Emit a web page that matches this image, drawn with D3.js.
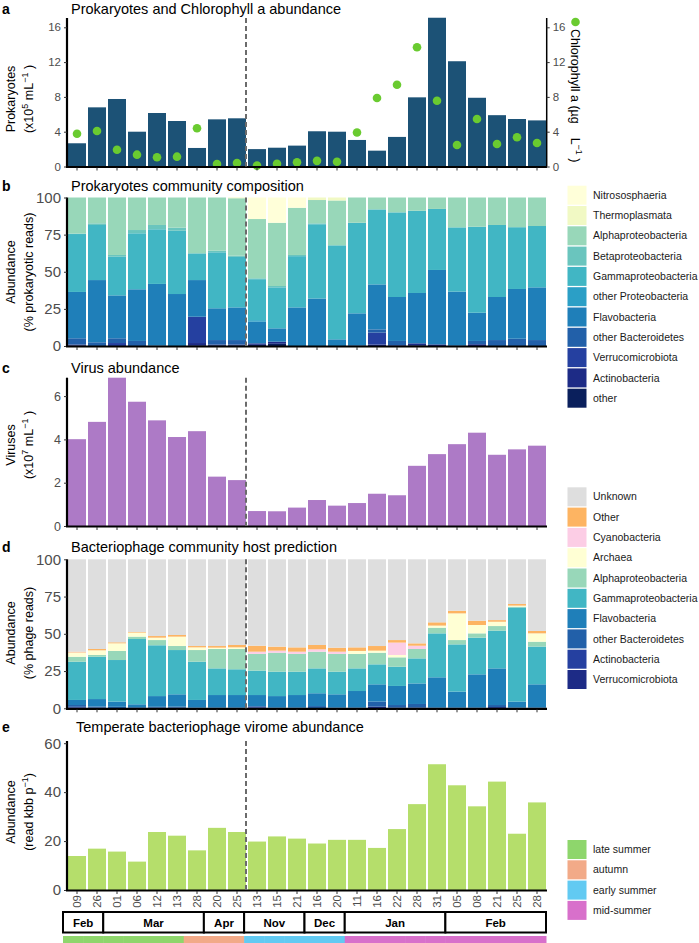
<!DOCTYPE html>
<html><head><meta charset="utf-8">
<script src="https://cdn.jsdelivr.net/npm/d3@7"></script>
<style>
body{margin:0;background:#fff;}
svg{display:block;font-family:"Liberation Sans",Arial,Helvetica,sans-serif;}
</style>
</head><body>
<svg id="chart" width="699" height="943"></svg>
<script>
// ---------------- DATA ----------------
const sampleIds = ["Feb-09","Feb-26","Mar-01","Mar-06","Mar-12","Mar-13","Mar-28","Apr-20","Apr-25",
  "Nov-13","Nov-15","Nov-21","Dec-16","Dec-20","Jan-11","Jan-16","Jan-22","Jan-28","Jan-31",
  "Feb-05","Feb-08","Feb-21","Feb-25","Feb-28"];
const dayLabels = ["09","26","01","06","12","13","28","20","25","13","15","21","16","20","11","16","22","28","31","05","08","21","25","28"];
const monthNames = ["Feb","Feb","Mar","Mar","Mar","Mar","Mar","Apr","Apr","Nov","Nov","Nov","Dec","Dec","Jan","Jan","Jan","Jan","Jan","Feb","Feb","Feb","Feb","Feb"];
const seasons = ["late summer","late summer","late summer","late summer","late summer","late summer",
  "autumn","autumn","autumn","early summer","early summer","early summer","early summer","early summer",
  "mid-summer","mid-summer","mid-summer","mid-summer","mid-summer","mid-summer","mid-summer","mid-summer","mid-summer","mid-summer"];
const seasonNames = ["late summer","autumn","early summer","mid-summer"];
const seasonColors = ["#8ed66c","#f2aa88","#62caf2","#d870cb"];

// a: prokaryotes (x10^5 mL-1) and chlorophyll a (ug L-1)
const prokaryotes = [2.67,6.8,7.76,4.0,6.15,5.23,2.13,5.42,5.54,2.0,2.16,2.4,4.05,4.0,3.05,1.82,3.4,7.95,17.1,12.1,7.9,5.9,5.46,5.3];
const chlorophyll = [3.77,4.08,1.93,1.36,1.06,1.13,4.39,0.29,0.4,0.1,0.32,0.48,0.65,0.55,3.9,7.87,9.4,13.7,7.56,2.47,5.46,2.59,3.36,2.7];

// b: prokaryote community composition (% reads), bottom -> top
const compOther      = [0.3,0,0,0,0,0,0.5,0.5,0.5,0.8,1.5,0,0,0,0,0,0,0.5,0,0,0,0,0,0];
const compActino     = [0.7,0,0,0,0,0,1.5,0.5,0.5,1,1.4,0,0,0,0,1,0.5,1.3,1.1,0,1.2,0,0,0];
const compVerruco    = [0,0,2,0,0,0,17.7,0,0,0,0,0,0,0,0,8,0,0,0,0,0,0,0,0];
const compOtherBact  = [4.2,2.5,3.2,3.4,0.3,0,0,3,3,0,0,0,0,0,0.5,2.2,2.9,0,0,0.5,2.2,4,4.9,4];
const compFlavo      = [31.2,41.9,28.9,34.8,41.5,35,24.7,21.4,22,14.6,9,26,32,4.5,21.5,30.3,29.6,33.9,50.1,36.1,19,29,33.5,35.5];
const compOtherProteo= [0,0,0,0,0,0,0,0,0,1,0,0,0,0,0,0,0,0,0,0,0,0,0,0];
const compGamma      = [39,37.1,26,37.7,36.8,42.6,18,37.7,34,27.6,27.6,34.5,50,63,61,50.5,57,55.4,41.1,43.3,57.9,48.5,41.6,41.3];
const compBeta       = [0.3,1.1,1.2,2.2,2.9,2.1,0,1.1,0.8,0.6,0.9,0.8,0.6,0.5,0,0,0,0,0,0,0,0,0,0];
const compAlpha      = [24.3,17.4,38.7,21.9,18.5,20.3,37.6,35.8,38.7,39.9,42.6,31.8,15.7,30,17,8,10,8.9,7.7,20.1,19.7,18.5,20,19.2];
const compThermo     = [0,0,0,0,0,0,0,0,0.5,0,0,0,1.7,2,0,0,0,0,0,0,0,0,0,0];
const compNitro      = [0,0,0,0,0,0,0,0,0,14.5,17,6.9,0,0,0,0,0,0,0,0,0,0,0,0];
const compNames  = ["other","Actinobacteria","Verrucomicrobiota","other Bacteroidetes","Flavobacteria","other Proteobacteria","Gammaproteobacteria","Betaproteobacteria","Alphaproteobacteria","Thermoplasmata","Nitrososphaeria"];
const compColors = ["#0a1f5c","#1d2b86","#2540a0","#2260a9","#1f7fb9","#2b9fc6","#41b6c4","#6ac5be","#98d7b9","#f1f9c4","#ffffd9"];

// c: viruses (x10^7 mL-1)
const viruses = [4.01,4.81,6.85,5.74,4.88,4.11,4.38,2.28,2.12,0.69,0.68,0.85,1.2,0.94,1.06,1.49,1.42,2.78,3.32,3.78,4.31,3.29,3.54,3.71];

// d: phage host prediction (% phage reads), bottom -> top
const hostVerruco   = [0.5,0.5,0,0,0.5,0.5,0,0,0,0.5,0,0,0,0,0,1.1,0.5,0.5,0,0,0,0.8,0,0];
const hostActino    = [0.5,0,0,0,0,0,0,0,0,0.5,0,0,0,0,0,0,0,0,0,0,0,0,0,0];
const hostOtherBact = [1.2,0.7,1,0.7,0.5,0.6,0.5,0.5,0.5,0.5,0.5,0.5,1.5,0.5,0.5,3.4,1.7,2.4,0.5,0.5,0.5,1.4,0.5,0.5];
const hostFlavo     = [3.4,5,3.5,2.0,7.2,8.3,5.1,8.4,8.4,7.4,7.7,8.4,8.6,8.9,11.1,11.6,12.8,13.8,20.3,10.7,22.3,24.6,4,15.6];
const hostGamma     = [25.7,28.4,27.9,43.8,34.1,29.7,25.7,17.9,17.3,16.4,16.4,15.7,16.7,15.2,15.2,13.4,12.9,16.8,29.5,31.7,24.6,25.3,63.2,25.3];
const hostAlpha     = [3.3,1.2,6.1,1.6,3.5,2.7,7.8,13,13.6,11.2,12.7,11.9,11.2,11.9,9.7,7.8,6.3,6.3,3.8,2.9,2.9,3.1,0.5,3.3];
const hostArchaea   = [2.7,3.1,5.1,2.7,1.6,6.3,1.8,0.9,1.1,0,0,0,0,0,2,1.4,1.6,0,1.4,17.9,5.6,2.9,0.7,5.6];
const hostCyano     = [0.2,0,0,0,0,0,0,0,0,1.5,1.4,1.5,1.6,1.5,0,0,8.3,2.2,0,0,0,0,0,0];
const hostOther     = [0.5,0.9,0.7,0.4,1.1,1.1,0.9,1.1,1.6,4,2.7,2.9,2.9,2.7,2.4,3.1,1.7,1.6,2.2,1.8,2.9,1.1,1.1,1.6];
const hostUnknown   = [62.0,60.2,55.7,48.8,51.5,50.8,58.2,58.2,57.5,58.0,58.6,59.1,57.5,59.3,59.1,58.2,54.2,56.4,42.3,34.5,41.2,40.8,30.0,48.1];
const hostNames  = ["Verrucomicrobiota","Actinobacteria","other Bacteroidetes","Flavobacteria","Gammaproteobacteria","Alphaproteobacteria","Archaea","Cyanobacteria","Other","Unknown"];
const hostColors = ["#1d2b86","#2540a0","#2260a9","#1f7fb9","#41b6c4","#98d7b9","#ffffd4","#fccde5","#fdb462","#dedede"];

// e: temperate phage abundance (read kbp-1)
const temperate = [13.9,16.9,15.7,11.6,23.7,22.2,16.2,25.4,23.7,19.8,21.9,21.0,19.0,20.5,20.5,17.2,24.9,35.1,51.4,42.8,34.2,44.3,23.0,35.8];

// ---------------- DRAW ----------------
const svg = d3.select("#chart");
svg.append("rect").attr("width",699).attr("height",943).attr("fill","#fff");

const X0 = 67, X1 = 547;
const x = d3.scaleBand().domain(sampleIds).range([X0, X1]).paddingInner(0.1).paddingOuter(0.05);
const dashX = (x(sampleIds[8]) + x.bandwidth() + x(sampleIds[9])) / 2 - 1;

// helper to build text with superscripts
function richText(parent, parts, attrs) {
  const t = parent.append("text");
  Object.entries(attrs).forEach(([k,v]) => t.attr(k, v));
  let raised = false;
  parts.forEach(p => {
    const sp = t.append("tspan");
    if (p.sup) {
      sp.attr("font-size","0.72em").attr("dy", raised ? null : "-0.55em").text(p.sup);
      raised = true;
    } else {
      if (raised) { sp.attr("dy","0.4em"); raised = false; }
      sp.text(p.t);
    }
  });
  return t;
}

function yTitle(lines, cy) {
  const xs = [11, 29];
  lines.forEach((parts, i) => {
    richText(svg, parts, {transform:`translate(${xs[i]},${cy}) rotate(-90)`, "text-anchor":"middle",
      "font-size":12.5, fill:"#000", dy:"0.35em"});
  });
}

function panelFrame(cfg) {
  const y = d3.scaleLinear().domain(cfg.domain).range([cfg.bottom, cfg.top]);
  svg.append("text").attr("x", 2).attr("y", cfg.titleY).attr("font-weight","bold").attr("font-size",14).text(cfg.letter);
  svg.append("text").attr("x", cfg.titleX || 71).attr("y", cfg.titleY).attr("font-size",14.5).attr("fill","#000").text(cfg.title);
  return y;
}

function axes(cfg, y, opts) {
  const ga = svg.append("g").attr("transform",`translate(${X0},0)`)
    .call(d3.axisLeft(y).tickValues(cfg.ticks).tickFormat(d3.format("d")).tickSize(3).tickSizeOuter(0).tickPadding(3));
  ga.select(".domain").attr("stroke","#000").attr("stroke-width",2.2).attr("d", `M0,${cfg.top}V${cfg.bottom+1}`);
  ga.selectAll(".tick line").attr("stroke","#333");
  ga.selectAll(".tick text").attr("fill","#4d4d4d").attr("font-size", cfg.tickFont)
    .attr("font-family","'Liberation Sans',Arial,sans-serif");
  const gx = svg.append("g").attr("transform",`translate(0,${cfg.bottom})`)
    .call(d3.axisBottom(x).tickSize(3).tickSizeOuter(0).tickFormat(opts && opts.labels ? (d,i)=>dayLabels[i] : ""));
  gx.select(".domain").attr("stroke","#000").attr("stroke-width",2.2).attr("d", `M${X0-1},0.5H${X1}`);
  gx.selectAll(".tick line").attr("stroke","#333").attr("transform","translate(0,1)");
  if (opts && opts.labels) {
    gx.selectAll(".tick text").attr("transform","rotate(-90)").attr("text-anchor","end")
      .attr("x",-5).attr("y",0).attr("dy","0.35em").attr("fill","#4d4d4d").attr("font-size",11.5)
      .attr("font-family","'Liberation Sans',Arial,sans-serif");
  }
  svg.append("line").attr("x1",dashX).attr("x2",dashX).attr("y1",cfg.top).attr("y2",cfg.bottom)
    .attr("stroke","#6b6b6b").attr("stroke-width",2).attr("stroke-dasharray","5,3");
}

function legend(items, colors, top, step) {
  const g = svg.append("g");
  items.forEach((name, i) => {
    const yy = top + i*step;
    g.append("rect").attr("x",567.5).attr("y",yy).attr("width",19).attr("height",step-1.3).attr("fill",colors[i]);
    g.append("text").attr("x",593).attr("y",yy + (step-1.3)/2).attr("dy","0.35em")
      .attr("font-size",10.5).attr("fill","#1a1a1a").text(name);
  });
}

// ---- Panel a ----
const cfgA = {letter:"a", title:"Prokaryotes and Chlorophyll a abundance", titleY:14, top:18, bottom:166.5,
  domain:[0,17.07], ticks:[0,4,8,12,16], tickFont:11.5};
const yA = panelFrame(cfgA);
svg.append("g").selectAll("rect").data(prokaryotes).join("rect")
  .attr("x",(d,i)=>x(sampleIds[i])).attr("width",x.bandwidth())
  .attr("y",d=>yA(d)).attr("height",d=>yA(0)-yA(d)).attr("fill","#1c5276");
svg.append("g").selectAll("circle").data(chlorophyll).join("circle")
  .attr("cx",(d,i)=>x(sampleIds[i])+x.bandwidth()/2).attr("cy",d=>yA(d)).attr("r",4.3).attr("fill","#6acb30");
axes(cfgA, yA);
const gr = svg.append("g").attr("transform",`translate(${X1-0.3},0)`)
  .call(d3.axisRight(yA).tickValues([0,4,8,12,16]).tickSize(3).tickSizeOuter(0).tickPadding(3));
gr.select(".domain").attr("stroke","#000").attr("stroke-width",1.5).attr("d",`M0,${cfgA.top}V${cfgA.bottom}`);
gr.selectAll(".tick line").attr("stroke","#333");
gr.selectAll(".tick text").attr("fill","#4d4d4d").attr("font-size",11.5).attr("font-family","'Liberation Sans',Arial,sans-serif");
svg.append("circle").attr("cx",575.5).attr("cy",22).attr("r",4.3).attr("fill","#6acb30");
richText(svg, [{t:"Chlorophyll a (µg    L"},{sup:"−1"},{t:" )"}],
  {transform:"translate(571,29) rotate(90)", "font-size":12.5, fill:"#000", style:"white-space:pre"});
yTitle([[{t:"Prokaryotes"}],[{t:"(x10"},{sup:"5"},{t:" mL"},{sup:"−1"},{t:" )"}]], 99);

// ---- Panel b ----
const cfgB = {letter:"b", title:"Prokaryotes community composition", titleY:191, top:197.5, bottom:346,
  domain:[0,100], ticks:[0,25,50,75,100], tickFont:15};
const yB = panelFrame(cfgB);
const compSeries = [compOther,compActino,compVerruco,compOtherBact,compFlavo,compOtherProteo,compGamma,compBeta,compAlpha,compThermo,compNitro];
const compRows = sampleIds.map((id,i)=>{ const o={id}; compNames.forEach((n,k)=>o[n]=compSeries[k][i]); return o; });
const stackB = d3.stack().keys(compNames)(compRows);
svg.append("g").selectAll("g").data(stackB).join("g").attr("fill",(d,k)=>compColors[k])
  .selectAll("rect").data(d=>d).join("rect")
  .attr("x",d=>x(d.data.id)).attr("width",x.bandwidth())
  .attr("y",d=>yB(d[1])).attr("height",d=>Math.max(0,yB(d[0])-yB(d[1])));
axes(cfgB, yB);
yTitle([[{t:"Abundance"}],[{t:"(% prokaryotic reads)"}]], 272);
legend(compNames.slice().reverse(), compColors.slice().reverse(), 185.7, 20.3);

// ---- Panel c ----
const cfgC = {letter:"c", title:"Virus abundance", titleY:372.5, top:377.7, bottom:526,
  domain:[0,6.85], ticks:[0,2,4,6], tickFont:12.5};
const yC = panelFrame(cfgC);
svg.append("g").selectAll("rect").data(viruses).join("rect")
  .attr("x",(d,i)=>x(sampleIds[i])).attr("width",x.bandwidth())
  .attr("y",d=>yC(d)).attr("height",d=>yC(0)-yC(d)).attr("fill","#ad7ac6");
axes(cfgC, yC);
yTitle([[{t:"Viruses"}],[{t:"(x10"},{sup:"7"},{t:" mL"},{sup:"−1"},{t:" )"}]], 445);

// ---- Panel d ----
const cfgD = {letter:"d", title:"Bacteriophage community host prediction", titleY:551.5, top:559.3, bottom:708.3,
  domain:[0,100], ticks:[0,25,50,75,100], tickFont:15};
const yD = panelFrame(cfgD);
const hostSeries = [hostVerruco,hostActino,hostOtherBact,hostFlavo,hostGamma,hostAlpha,hostArchaea,hostCyano,hostOther,hostUnknown];
const hostRows = sampleIds.map((id,i)=>{ const o={id}; hostNames.forEach((n,k)=>o[n]=hostSeries[k][i]); return o; });
const stackD = d3.stack().keys(hostNames)(hostRows);
svg.append("g").selectAll("g").data(stackD).join("g").attr("fill",(d,k)=>hostColors[k])
  .selectAll("rect").data(d=>d).join("rect")
  .attr("x",d=>x(d.data.id)).attr("width",x.bandwidth())
  .attr("y",d=>yD(d[1])).attr("height",d=>Math.max(0,yD(d[0])-yD(d[1])));
axes(cfgD, yD);
yTitle([[{t:"Abundance"}],[{t:"(% phage reads)"}]], 633);
legend(hostNames.slice().reverse(), hostColors.slice().reverse(), 487.3, 20.3);

// ---- Panel e ----
const cfgE = {letter:"e", title:"Temperate bacteriophage virome abundance", titleY:731.5, titleX:76, top:741, bottom:890,
  domain:[0,60.9], ticks:[0,20,40,60], tickFont:15};
const yE = panelFrame(cfgE);
svg.append("g").selectAll("rect").data(temperate).join("rect")
  .attr("x",(d,i)=>x(sampleIds[i])).attr("width",x.bandwidth())
  .attr("y",d=>yE(d)).attr("height",d=>yE(0)-yE(d)).attr("fill","#b5de6b");
axes(cfgE, yE, {labels:true});
yTitle([[{t:"Abundance"}],[{t:"(read kbb p"},{sup:"−1"},{t:")"}]], 812);
legend(seasonNames, seasonColors, 840, 20.3);

// ---- month boxes & season strip ----
const stripX = d3.scaleLinear().domain([0, sampleIds.length]).range([63, 546]);
const months = [];
monthNames.forEach((m,i)=>{
  if (i === 0 || monthNames[i-1] !== m) months.push({name:m, start:i, end:i+1});
  else months[months.length-1].end = i+1;
});
const gm = svg.append("g");
months.forEach(m=>{
  gm.append("rect").attr("x",stripX(m.start)).attr("y",912).attr("width",stripX(m.end)-stripX(m.start)).attr("height",20.5)
    .attr("fill","#fff").attr("stroke","#000").attr("stroke-width",2);
  gm.append("text").attr("x",(stripX(m.start)+stripX(m.end))/2).attr("y",922.5).attr("dy","0.35em")
    .attr("text-anchor","middle").attr("font-weight","bold").attr("font-size",11.5).text(m.name);
});
svg.append("g").selectAll("rect").data(seasons).join("rect")
  .attr("x",(d,i)=>stripX(i)).attr("width",stripX(1)-stripX(0)+0.5).attr("y",936).attr("height",7)
  .attr("fill",d=>seasonColors[seasonNames.indexOf(d)]);
</script>
</body></html>
